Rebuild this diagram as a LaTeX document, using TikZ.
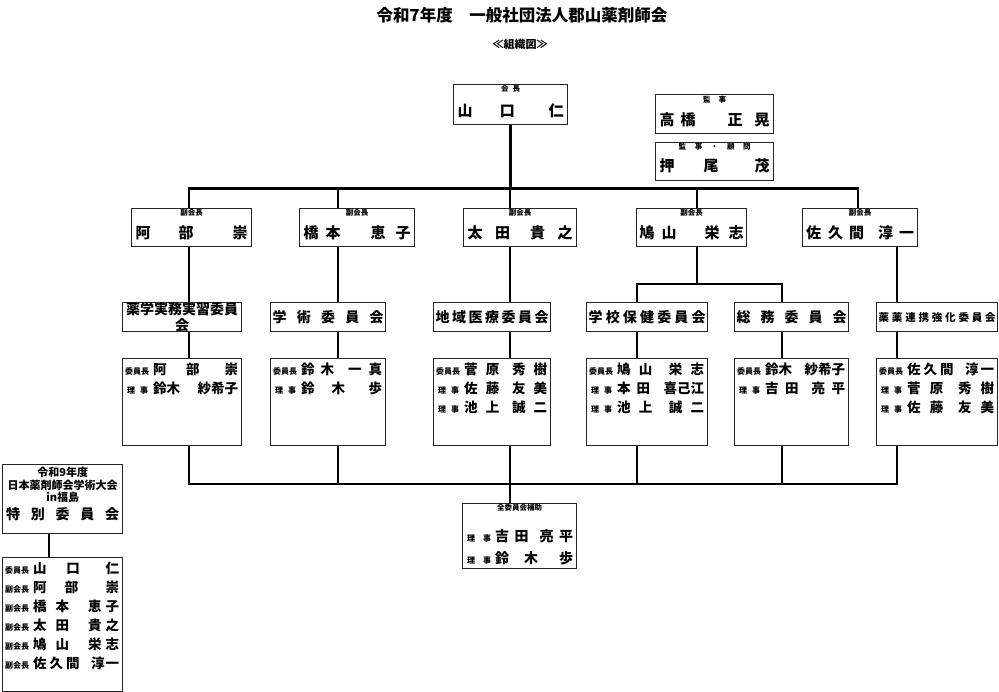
\documentclass[tikz,border=0pt]{standalone}
\usepackage{fontspec}
\setmainfont{Noto Sans CJK JP}
\usepackage{tikz}
\usetikzlibrary{positioning}
\newcommand{\hg}[1]{\hspace{0pt plus #1fill}}
\newcommand{\role}[1]{\makebox[28pt][l]{\fontsize{8}{8}\selectfont #1}}
\newcommand{\rj}{\role{\hspace{2pt}理\hspace{5pt}事}}
\tikzstyle{orgbox} = [rectangle, draw=black!85, line width=1.3pt, inner sep=0pt, anchor=north west]
\tikzstyle{tag} = [inner sep=0pt, font=\fontsize{7.5}{8}\selectfont\bfseries]
\tikzstyle{who} = [inner sep=0pt, font=\fontsize{15}{16}\selectfont\bfseries]
\tikzstyle{comm} = [orgbox, minimum height=29pt, align=center, font=\fontsize{14}{15.5}\selectfont\bfseries]
\tikzstyle{members} = [inner sep=0pt, anchor=north west, align=left, font=\fontsize{13.5}{19}\selectfont\bfseries]
\tikzstyle{conn} = [line width=2.8pt, black]

\begin{document}
\begin{tikzpicture}[x=1pt, y=-1pt]
\useasboundingbox (0,0) rectangle (999,692);

% Title
\node (title) [inner sep=0pt, font=\fontsize{16.5}{18}\selectfont\bfseries] at (522,15) {令和7年度　一般社団法人郡山薬剤師会};
\node (subtitle) [inner sep=0pt, font=\fontsize{11}{12}\selectfont\bfseries] at (520,44) {≪組織図≫};

% President and auditors
\node (pres) [orgbox, minimum width=114pt, minimum height=40pt] at (453,84) {};
\node (presTag) [tag, yshift=-5pt] at (pres.north) {会\hspace{4pt}長};
\node (presName) [who, yshift=14pt] at (pres.south) {\makebox[106pt][s]{山\hg{1}口\hg{1.25}仁}};

\node (aud1) [orgbox, minimum width=118pt, minimum height=39pt] at (655,94) {};
\node (aud1Tag) [tag, yshift=-6pt] at (aud1.north) {監\hspace{8pt}事};
\node (aud1Name) [who, yshift=15pt] at (aud1.south) {\makebox[110pt][s]{高\hspace{6pt}橋\hfill 正\hspace{12pt}晃}};

\node (aud2) [orgbox, minimum width=118pt, minimum height=38pt] at (655,142) {};
\node (aud2Tag) [tag, yshift=-4.5pt] at (aud2.north) {\makebox[72pt][s]{監\hfill 事\hfill ・\hfill 顧\hfill 問}};
\node (aud2Name) [who, yshift=15pt] at (aud2.south) {\makebox[110pt][s]{押\hg{1}尾\hg{1.25}茂}};

% Vice presidents
\node (vp1) [orgbox, minimum width=120pt, minimum height=38pt] at (131,208) {};
\node (vp1Tag) [tag, yshift=-5pt] at (vp1.north) {副会長};
\node (vp1Name) [who, yshift=14pt] at (vp1.south) {\makebox[112pt][s]{阿\hg{1}部\hg{1.4}崇}};

\node (vp2) [orgbox, minimum width=115pt, minimum height=38pt] at (299,208) {};
\node (vp2Tag) [tag, yshift=-5pt] at (vp2.north) {副会長};
\node (vp2Name) [who, yshift=14pt] at (vp2.south) {\makebox[107pt][s]{橋\hspace{7pt}本\hfill 恵\hspace{10pt}子}};

\node (vp3) [orgbox, minimum width=113pt, minimum height=38pt] at (463,208) {};
\node (vp3Tag) [tag, yshift=-5pt] at (vp3.north) {副会長};
\node (vp3Name) [who, yshift=14pt] at (vp3.south) {\makebox[105pt][s]{太\hg{1}田\hg{1.6}貴\hg{1}之}};

\node (vp4) [orgbox, minimum width=110pt, minimum height=38pt] at (636,208) {};
\node (vp4Tag) [tag, yshift=-5pt] at (vp4.north) {副会長};
\node (vp4Name) [who, yshift=14pt] at (vp4.south) {\makebox[104pt][s]{鳩\hspace{7pt}山\hfill 栄\hspace{9pt}志}};

\node (vp5) [orgbox, minimum width=115pt, minimum height=38pt] at (802,208) {};
\node (vp5Tag) [tag, yshift=-5pt] at (vp5.north) {副会長};
\node (vp5Name) [who, yshift=14pt] at (vp5.south) {\makebox[108pt][s]{佐\hspace{7pt}久\hspace{6pt}間\hfill 淳\hspace{6pt}一}};

% Committees
\node (comA) [comm, minimum width=119pt] at (122,302) {薬学実務実習委員\\会};
\node (comB) [comm, minimum width=115pt] at (270,302) {\makebox[111pt][s]{学\hfill 術\hfill 委\hfill 員\hfill 会}};
\node (comC) [comm, minimum width=117pt] at (433,302) {\makebox[113pt][s]{地\hfill 域\hfill 医\hfill 療\hfill 委\hfill 員\hfill 会}};
\node (comD) [comm, minimum width=121pt] at (586,302) {\makebox[117pt][s]{学\hfill 校\hfill 保\hfill 健\hfill 委\hfill 員\hfill 会}};
\node (comE) [comm, minimum width=114pt] at (734,302) {\makebox[110pt][s]{総\hfill 務\hfill 委\hfill 員\hfill 会}};
\node (comF) [comm, minimum width=121pt, font=\fontsize{10.5}{12}\selectfont\bfseries] at (876,302) {\makebox[117pt][s]{薬\hfill 薬\hfill 連\hfill 携\hfill 強\hfill 化\hfill 委\hfill 員\hfill 会}};

% Committee members
\node (memA) [orgbox, minimum width=119pt, minimum height=87pt] at (122,358) {};
\node (memAText) [members, xshift=3pt, yshift=-5pt] at (memA.north west) {\role{委員長}\makebox[85pt][s]{阿\hg{1}部\hg{1.3}崇}\\
\rj\makebox[85pt][s]{鈴木\hfill 紗希子}};

\node (memB) [orgbox, minimum width=115pt, minimum height=87pt] at (270,358) {};
\node (memBText) [members, xshift=3pt, yshift=-5pt] at (memB.north west) {\role{委員長}\makebox[81pt][s]{鈴\hspace{6pt}木\hfill 一\hspace{7pt}真}\\
\rj\makebox[81pt][s]{鈴\hg{1}木\hg{1.4}歩}};

\node (memC) [orgbox, minimum width=117pt, minimum height=87pt] at (433,358) {};
\node (memCText) [members, xshift=3pt, yshift=-5pt] at (memC.north west) {\role{委員長}\makebox[83pt][s]{菅\hg{1}原\hg{1.6}秀\hg{1}樹}\\
\rj\makebox[83pt][s]{佐\hg{1}藤\hg{1.6}友\hg{1}美}\\
\rj\makebox[83pt][s]{池\hg{1}上\hg{1.6}誠\hg{1}二}};

\node (memD) [orgbox, minimum width=121pt, minimum height=87pt] at (586,358) {};
\node (memDText) [members, xshift=3pt, yshift=-5pt] at (memD.north west) {\role{委員長}\makebox[87pt][s]{鳩\hg{1}山\hg{2}栄\hg{1}志}\\
\rj\makebox[87pt][s]{本\hspace{6pt}田\hfill 喜己江}\\
\rj\makebox[87pt][s]{池\hg{1}上\hg{2}誠\hg{1}二}};

\node (memE) [orgbox, minimum width=114pt, minimum height=87pt] at (734,358) {};
\node (memEText) [members, xshift=3pt, yshift=-5pt] at (memE.north west) {\role{委員長}\makebox[80pt][s]{鈴木\hfill 紗希子}\\
\rj\makebox[80pt][s]{吉\hg{1}田\hg{2}亮\hg{1}平}};

\node (memF) [orgbox, minimum width=121pt, minimum height=87pt] at (876,358) {};
\node (memFText) [members, xshift=3pt, yshift=-5pt] at (memF.north west) {\role{委員長}\makebox[87pt][s]{佐\hspace{3pt}久\hspace{3pt}間\hfill 淳\hspace{2pt}一}\\
\rj\makebox[87pt][s]{菅\hg{1}原\hg{1.6}秀\hg{1}樹}\\
\rj\makebox[87pt][s]{佐\hg{1}藤\hg{1.6}友\hg{1}美}};

% All committees support
\node (allc) [orgbox, minimum width=114pt, minimum height=65pt] at (462,503) {};
\node (allcTag) [tag, yshift=-5pt] at (allc.north) {全委員会補助};
\node (allcText) [members, font=\fontsize{14}{22}\selectfont\bfseries, xshift=5pt, yshift=-26pt] at (allc.north west) {\role{理\hspace{8pt}事}\makebox[78pt][s]{吉\hg{1}田\hg{2}亮\hg{1}平}\\
\role{理\hspace{8pt}事}\makebox[78pt][s]{鈴\hg{1}木\hg{1.4}歩}};

% Special committee
\node (spec) [orgbox, minimum width=120pt, minimum height=69pt] at (2,464) {};
\node (specText) [inner sep=0pt, anchor=north, align=center, font=\fontsize{11}{12.5}\selectfont\bfseries, yshift=-3pt] at (spec.north) {令和9年度\\日本薬剤師会学術大会\\in福島};
\node (specName) [inner sep=0pt, font=\fontsize{14}{15}\selectfont\bfseries, yshift=20pt] at (spec.south) {\makebox[113pt][s]{特\hfill 別\hfill 委\hfill 員\hfill 会}};

\node (specm) [orgbox, minimum width=120pt, minimum height=134pt] at (2,557) {};
\node (specmText) [members, xshift=3pt, yshift=-5pt] at (specm.north west) {\role{委員長}\makebox[86pt][s]{山\hg{1}口\hg{1.3}仁}\\
\role{副会長}\makebox[86pt][s]{阿\hg{1}部\hg{1.5}崇}\\
\role{副会長}\makebox[86pt][s]{橋\hspace{9pt}本\hfill 恵\hspace{4pt}子}\\
\role{副会長}\makebox[86pt][s]{太\hspace{9pt}田\hfill 貴\hspace{4pt}之}\\
\role{副会長}\makebox[86pt][s]{鳩\hspace{9pt}山\hfill 栄\hspace{4pt}志}\\
\role{副会長}\makebox[86pt][s]{佐\hspace{3pt}久\hspace{3pt}間\hfill 淳\hspace{1pt}一}};

% Line columns and buses
\coordinate (colA) at (189,0);
\coordinate (colB) at (338,0);
\coordinate (colC) at (510,0);
\coordinate (colD) at (637,0);
\coordinate (colE) at (782,0);
\coordinate (colF) at (897,0);
\coordinate (colVd) at (697,0);
\coordinate (colVe) at (858,0);
\coordinate (colS) at (49,0);
\coordinate (topbus) at (0,188.5);
\coordinate (midbus) at (0,284);
\coordinate (botbus) at (0,484);

% President to vice presidents
\draw [conn] (pres.south) -- (pres.south |- topbus);
\draw [conn] (vp1.north -| colA) -- (topbus -| colA) -- (topbus -| colVe) -- (vp5.north -| colVe);
\draw [conn] (vp2.north -| colB) -- (topbus -| colB);
\draw [conn] (vp3.north -| colC) -- (topbus -| colC);
\draw [conn] (vp4.north -| colVd) -- (topbus -| colVd);

% Vice presidents to committees
\draw [conn] (vp1.south -| colA) -- (comA.north -| colA);
\draw [conn] (vp2.south -| colB) -- (comB.north -| colB);
\draw [conn] (vp3.south -| colC) -- (comC.north -| colC);
\draw [conn] (vp4.south -| colVd) -- (midbus -| colVd);
\draw [conn] (comD.north -| colD) -- (midbus -| colD) -- (midbus -| colE) -- (comE.north -| colE);
\draw [conn] (vp5.south -| colF) -- (comF.north -| colF);

% Committees to members
\draw [conn] (comA.south -| colA) -- (memA.north -| colA);
\draw [conn] (comB.south -| colB) -- (memB.north -| colB);
\draw [conn] (comC.south -| colC) -- (memC.north -| colC);
\draw [conn] (comD.south -| colD) -- (memD.north -| colD);
\draw [conn] (comE.south -| colE) -- (memE.north -| colE);
\draw [conn] (comF.south -| colF) -- (memF.north -| colF);

% Members to joint support
\draw [conn] (memA.south -| colA) -- (botbus -| colA) -- (botbus -| colF) -- (memF.south -| colF);
\draw [conn] (memB.south -| colB) -- (botbus -| colB);
\draw [conn] (memC.south -| colC) -- (allc.north -| colC);
\draw [conn] (memD.south -| colD) -- (botbus -| colD);
\draw [conn] (memE.south -| colE) -- (botbus -| colE);

% Special committee
\draw [conn] (spec.south -| colS) -- (specm.north -| colS);
\end{tikzpicture}
\end{document}
